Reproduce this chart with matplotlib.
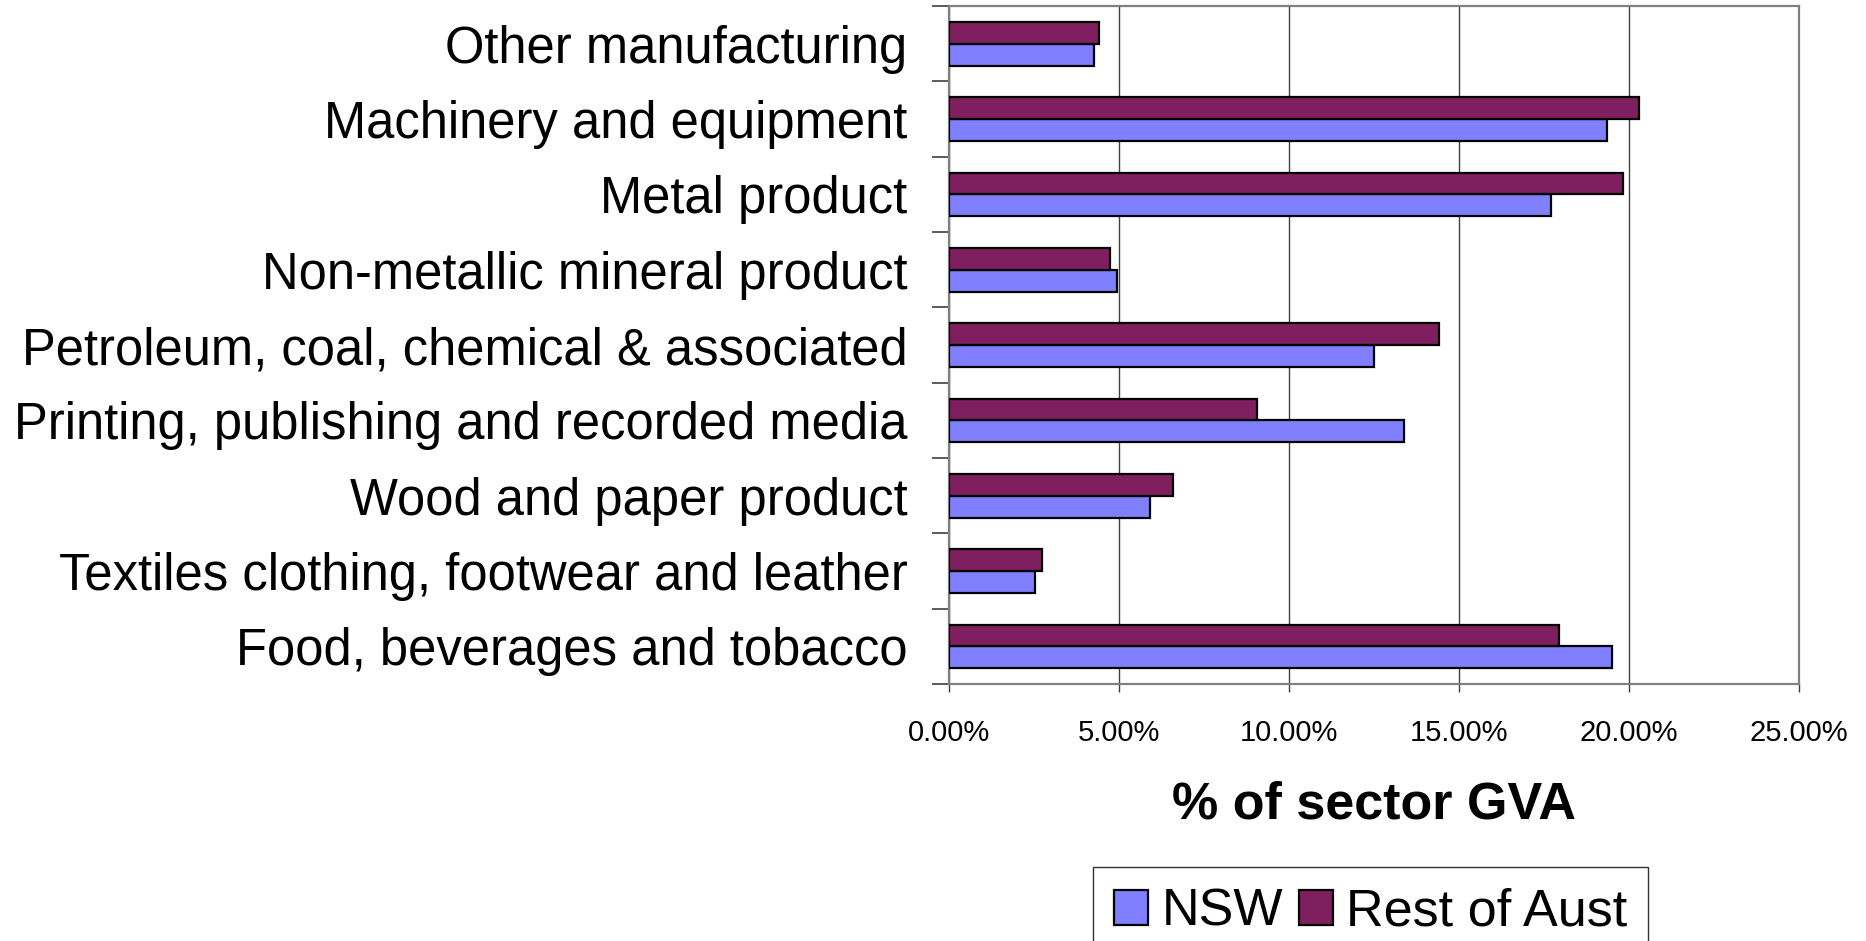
import matplotlib
matplotlib.use("Agg")
import matplotlib.pyplot as plt
import numpy as np
from matplotlib.ticker import FuncFormatter, FixedLocator

plt.rcParams['font.family'] = ['Liberation Sans', 'DejaVu Sans']

# categories listed top to bottom as they appear
sectors = ["Other manufacturing", "Machinery and equipment", "Metal product",
           "Non-metallic mineral product", "Petroleum, coal, chemical & associated",
           "Printing, publishing and recorded media", "Wood and paper product",
           "Textiles clothing, footwear and leather", "Food, beverages and tobacco"]
nsw = [4.26, 19.35, 17.7, 4.93, 12.51, 13.38, 5.91, 2.54, 19.49]
rest = [4.41, 20.3, 19.82, 4.73, 14.41, 9.07, 6.60, 2.72, 17.94]
xticks = [0, 5, 10, 15, 20, 25]

# excel draws the first category at the bottom
sectors = sectors[::-1]
nsw = nsw[::-1]
rest = rest[::-1]

fig = plt.figure(figsize=(18.66, 9.41), dpi=100)
ax = fig.add_axes([0.5086, 0.2731, 0.4555, 0.7205])

y = np.arange(len(sectors))
h = 0.29
ax.barh(y - h/2, nsw, height=h, color='#8080FF', edgecolor='black', linewidth=1.6, label='NSW', zorder=3)
ax.barh(y + h/2, rest, height=h, color='#7F1F5F', edgecolor='black', linewidth=1.6, label='Rest of Aust', zorder=3)

ax.set_xlim(0, 25)
ax.set_ylim(-0.5, len(sectors) - 0.5)

ax.set_xticks(xticks)
ax.xaxis.set_major_formatter(FuncFormatter(lambda v, p: f"{v:.2f}%"))
ax.tick_params(axis='x', labelsize=21, length=6, width=1, color='#404040', pad=19)
ax.grid(axis='x', color='#404040', linewidth=1.0, zorder=0)

ax.set_yticks(y)
ax.set_yticklabels(sectors, fontsize=36.5)
ax.tick_params(axis='y', length=0, pad=30)
ax.yaxis.set_minor_locator(FixedLocator(np.arange(-0.5, len(sectors), 1.0)))
ax.tick_params(axis='y', which='minor', length=12, width=1.2, color='#404040')

for s in ax.spines.values():
    s.set_color('#808080')
    s.set_linewidth(1.6)

ax.set_xlabel("% of sector GVA", fontsize=37.5, fontweight='bold', labelpad=24)

leg = fig.legend(loc='upper center', bbox_to_anchor=(0.7345, 0.0786), ncol=2,
                 fontsize=37.5, frameon=True, fancybox=False, edgecolor='black',
                 handlelength=0.66, handleheight=0.66, handletextpad=0.25,
                 columnspacing=0.3, borderpad=0.4, borderaxespad=0)
leg.get_frame().set_linewidth(1.0)

fig.savefig("out.png", dpi=100)
